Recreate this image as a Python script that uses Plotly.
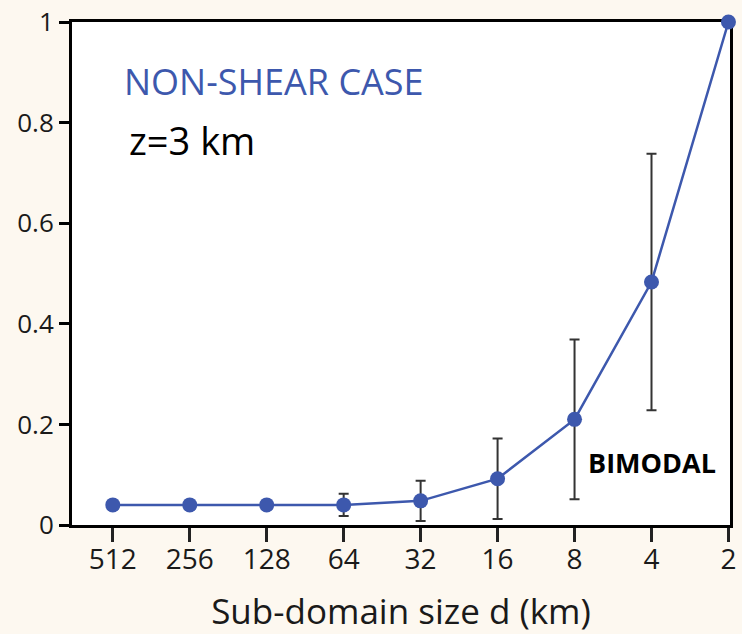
import plotly.graph_objects as go

sizes = ["512", "256", "128", "64", "32", "16", "8", "4", "2"]
values = [0.04, 0.04, 0.04, 0.04, 0.048, 0.092, 0.21, 0.483, 1.0]
errors = [0, 0, 0, 0.022, 0.04, 0.08, 0.159, 0.255, 0]

xpos = list(range(len(sizes)))
blue = "#3d58ad"
font = "Open Sans"

fig = go.Figure()
fig.add_trace(go.Scatter(
    x=xpos, y=values, mode="lines+markers",
    line=dict(color=blue, width=2.5),
    marker=dict(color=blue, size=15),
    error_y=dict(type="data", array=errors, visible=True,
                 color="#333333", thickness=2, width=5),
    cliponaxis=False, showlegend=False,
))

fig.update_layout(
    width=742, height=634,
    margin=dict(l=72, r=12, t=22, b=109),
    paper_bgcolor="#fdf8f0", plot_bgcolor="white",
    font=dict(family=font, color="#1a1a1a"),
    xaxis=dict(
        range=[-0.53, 8.02], tickvals=xpos, ticktext=sizes,
        showgrid=False, zeroline=False, automargin=False, layer="below traces",
        showline=True, linecolor="black", linewidth=3, mirror=True,
        ticks="outside", ticklen=14, tickwidth=2.5, tickcolor="#222",
        ticklabelstandoff=-7,
        tickfont=dict(size=28, family=font, color="#1a1a1a"),
        title=dict(text="Sub-domain size d (km)", font=dict(size=35, family=font, color="#1a1a1a"), standoff=26),
    ),
    yaxis=dict(
        range=[0, 1], tickvals=[0, 0.2, 0.4, 0.6, 0.8, 1], ticktext=["0", "0.2", "0.4", "0.6", "0.8", "1"],
        showgrid=False, zeroline=False, automargin=False, layer="below traces",
        showline=True, linecolor="black", linewidth=3, mirror=True,
        ticks="outside", ticklen=10, tickwidth=3, tickcolor="black",
        tickfont=dict(size=26, family=font, color="#1a1a1a"),
    ),
    annotations=[
        dict(text="NON-SHEAR CASE", xref="paper", yref="paper", x=0.076, y=0.881,
             xanchor="left", yanchor="middle", showarrow=False,
             font=dict(size=36, family=font, color=blue)),
        dict(text="z=3 km", xref="paper", yref="paper", x=0.084, y=0.765,
             xanchor="left", yanchor="middle", showarrow=False,
             font=dict(size=38, family=font, color="black")),
        dict(text="<b>BIMODAL</b>", xref="paper", yref="paper", x=0.781, y=0.125,
             xanchor="left", yanchor="middle", showarrow=False,
             font=dict(size=27, family=font, color="black")),
    ],
)

fig.write_html("out.html")
